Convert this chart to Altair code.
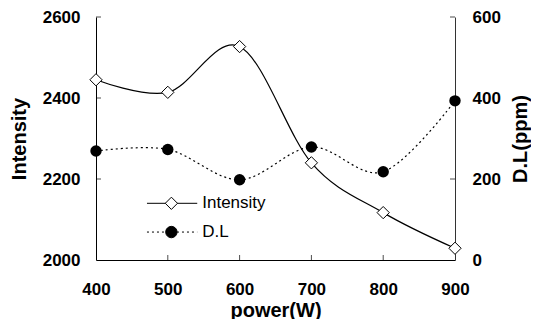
import altair as alt
import pandas as pd

# ---- data ----
power = [400, 500, 600, 700, 800, 900]
intensity = [2445, 2414, 2527, 2240, 2117, 2029]
dl = [269, 273, 198, 279, 218, 393]

x_tick_values = [400, 500, 600, 700, 800, 900]
left_tick_values = [2000, 2200, 2400, 2600]
right_tick_values = [0, 200, 400, 600]

inner_left_ticks = [2200, 2400, 2600]
inner_right_ticks = [200, 400, 600]
inner_x_ticks = [500, 600, 700, 800]

legend_labels = ["Intensity", "D.L"]
legend_line_x = [471, 541]
legend_marker_x = 505
legend_text_x = 548
legend_y = [2140, 2069]

# ---- tables ----
main = pd.DataFrame({"power": power, "intensity": intensity, "dl": dl})
lt = pd.DataFrame({"power": [400] * len(inner_left_ticks), "intensity": inner_left_ticks})
bt = pd.DataFrame({"power": inner_x_ticks, "intensity": [2000] * len(inner_x_ticks)})
rt = pd.DataFrame({"power": [900] * len(inner_right_ticks), "dl": inner_right_ticks})
leg_line_int = pd.DataFrame({"power": legend_line_x, "intensity": [legend_y[0]] * 2})
leg_line_dl = pd.DataFrame({"power": legend_line_x, "intensity": [legend_y[1]] * 2})
leg_pts = pd.DataFrame({"power": [legend_marker_x] * 2, "intensity": legend_y,
                        "label": legend_labels})
leg_txt = pd.DataFrame({"power": [legend_text_x] * 2, "intensity": legend_y,
                        "label": legend_labels})

FONT = "Liberation Sans"

X = alt.X("power:Q",
          scale=alt.Scale(domain=[400, 900], nice=False, zero=False),
          axis=alt.Axis(values=x_tick_values, title="power(W)", ticks=False, format="d",
                        labelPadding=21, titlePadding=3, grid=False,
                        domainColor="black", labelFlush=False))
YL = alt.Y("intensity:Q",
           scale=alt.Scale(domain=[2000, 2600], nice=False, zero=False),
           axis=alt.Axis(values=left_tick_values, title="Intensity", orient="left",
                         ticks=False, labelPadding=16, titlePadding=13, grid=False,
                         format="d", domainColor="black", labelFlush=False))
YR = alt.Y("dl:Q",
           scale=alt.Scale(domain=[0, 600], nice=False, zero=False),
           axis=alt.Axis(values=right_tick_values, title="D.L(ppm)", orient="right",
                         ticks=False, labelPadding=17, titlePadding=30, grid=False,
                         format="d", titleAngle=270, domainColor="#333333",
                         labelFlush=False))

int_line = alt.Chart(main).mark_line(color="black", strokeWidth=1.2,
                                     interpolate="cardinal").encode(x=X, y=YL)
int_pts = alt.Chart(main).mark_point(shape="diamond", size=150, filled=True,
                                     fill="white", stroke="black", strokeWidth=1,
                                     opacity=1).encode(x=X, y=YL)
lticks = alt.Chart(lt).mark_tick(orient="horizontal", size=5, thickness=1,
                                 color="black", xOffset=2.5).encode(x=X, y=YL)
bticks = alt.Chart(bt).mark_tick(orient="vertical", size=5, thickness=1,
                                 color="black", yOffset=-2.5).encode(x=X, y=YL)
lg1 = alt.Chart(leg_line_int).mark_line(color="black", strokeWidth=1).encode(x=X, y=YL)
lg2 = alt.Chart(leg_line_dl).mark_line(color="black", strokeWidth=1,
                                       strokeDash=[2, 3]).encode(x=X, y=YL)
lgp = alt.Chart(leg_pts).mark_point(filled=True, stroke="black", strokeWidth=1,
                                    opacity=1).encode(
    x=X, y=YL,
    shape=alt.Shape("label:N", scale=alt.Scale(domain=legend_labels,
                                               range=["diamond", "circle"]), legend=None),
    fill=alt.Fill("label:N", scale=alt.Scale(domain=legend_labels,
                                             range=["white", "black"]), legend=None),
    size=alt.Size("label:N", scale=alt.Scale(domain=legend_labels,
                                             range=[150, 130]), legend=None),
)
lgt = alt.Chart(leg_txt).mark_text(align="left", baseline="middle", font=FONT,
                                   fontSize=17, color="black").encode(
    x=X, y=YL, text="label:N")

left = alt.layer(int_line, lticks, bticks, lg1, lg2, lgp, lgt, int_pts)

dl_line = alt.Chart(main).mark_line(color="black", strokeWidth=1.2, strokeDash=[2, 3],
                                    interpolate="cardinal").encode(x=X, y=YR)
dl_pts = alt.Chart(main).mark_circle(size=130, color="black", opacity=1).encode(x=X, y=YR)
rticks = alt.Chart(rt).mark_tick(orient="horizontal", size=5, thickness=1,
                                 color="black", xOffset=-2.5).encode(x=X, y=YR)
right = alt.layer(dl_line, rticks, dl_pts)

chart = alt.layer(right, left).resolve_scale(y="independent").properties(
    width=359, height=243,
    autosize=alt.AutoSizeParams(type="none"),
    padding={"left": 88, "top": 9, "right": 76, "bottom": 59},
).configure_view(stroke=None).configure_axis(
    labelFont=FONT, labelFontSize=17, labelFontWeight="bold", labelColor="black",
    titleFont=FONT, titleFontSize=20, titleFontWeight="bold", titleColor="black",
    domainWidth=1,
)

chart.save("out.html", embed_options={"renderer": "svg", "actions": False})
